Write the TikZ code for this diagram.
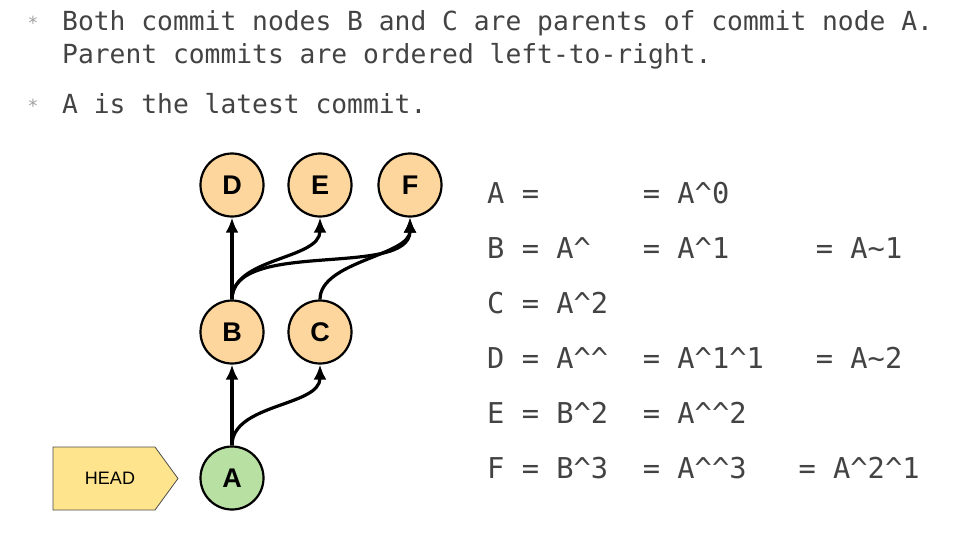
\documentclass[tikz,border=0pt]{standalone}
\usepackage{fontspec}
\setmainfont{Liberation Sans}
\setmonofont{DejaVu Sans Mono}
\usetikzlibrary{arrows.meta}
\definecolor{txtgray}{RGB}{67,67,67}
\definecolor{bulgray}{RGB}{160,160,160}
\definecolor{commitorange}{RGB}{252,214,156}
\definecolor{commitgreen}{RGB}{184,224,162}
\definecolor{headyellow}{RGB}{255,228,142}
\newcommand{\crt}{\textasciicircum}
\newcommand{\tld}{\textasciitilde}
\tikzset{
  commit/.style={circle,draw=black,line width=2.2pt,fill=commitorange,minimum size=63pt,inner sep=0pt,font=\fontsize{27}{27}\selectfont\bfseries},
  parent/.style={-{Latex[length=15pt,width=13pt]},line width=3.2pt},
  bullet/.style={anchor=base west,inner sep=0pt,text=txtgray,font=\ttfamily\fontsize{26.3}{33}\selectfont},
  star/.style={text=bulgray,inner sep=0pt,font=\ttfamily\fontsize{18}{18}\selectfont},
  eqn/.style={anchor=base west,inner sep=0pt,text=txtgray,font=\ttfamily\fontsize{28.7}{30}\selectfont}
}

\begin{document}
\begin{tikzpicture}[x=1pt,y=-1pt]
      \useasboundingbox (0,0) rectangle (960,544);
      \fill[white] (0,0) rectangle (960,544);
      % bullet text
      \node[star] (s1) at (33,23) {*};
      \node[bullet] (t1) at (62,30) {Both commit nodes B and C are parents of commit node A.};
      \node[bullet] (t2) at (62,63) {Parent commits are ordered left-to-right.};
      \node[star] (s2) at (33,106) {*};
      \node[bullet] (t3) at (62,113) {A is the latest commit.};
      % commit graph
      \node[commit] (D) at (232,185) {D};
      \node[commit] (E) at (320,185) {E};
      \node[commit] (F) at (410,185) {F};
      \node[commit] (B) at (232,332) {B};
      \node[commit] (C) at (320,332) {C};
      \node[commit,fill=commitgreen] (A) at (232,478) {A};
      \draw[fill=headyellow,draw=black!70,line width=0.8pt] (53,447) -- (155,447) -- (178,478.5) -- (155,510) -- (53,510) -- cycle;
      \node[font=\fontsize{18}{18}\selectfont] (head) at (110,478.5) {HEAD};
      \draw[parent] (A) -- (B);
      \draw[parent] (A.north) to[out=90,in=-90,looseness=0.9] (C.south);
      \draw[parent] (B) -- (D);
      \draw[parent] (B.north) to[out=90,in=-90,looseness=0.9] (E.south);
      \draw[parent] (B.north) to[out=90,in=-90,looseness=0.8] (F.south);
      \draw[parent] (C.north) to[out=90,in=-90,looseness=0.8] (F.south);
      % ancestry references
      \node[eqn] (eA1) at (487,203.5) {A =};
      \node[eqn] (eA2) at (642.7,203.5) {= A\crt0};
      \node[eqn] (eB1) at (487,258.5) {B = A\crt};
      \node[eqn] (eB2) at (642.7,258.5) {= A\crt1};
      \node[eqn] (eB3) at (815.7,258.5) {= A\tld1};
      \node[eqn] (eC1) at (487,313.5) {C = A\crt2};
      \node[eqn] (eD1) at (487,368.5) {D = A\crt\crt};
      \node[eqn] (eD2) at (642.7,368.5) {= A\crt1\crt1};
      \node[eqn] (eD3) at (815.7,368.5) {= A\tld2};
      \node[eqn] (eE1) at (487,423.5) {E = B\crt2};
      \node[eqn] (eE2) at (642.7,423.5) {= A\crt\crt2};
      \node[eqn] (eF1) at (487,478.5) {F = B\crt3};
      \node[eqn] (eF2) at (642.7,478.5) {= A\crt\crt3};
      \node[eqn] (eF3) at (798.4,478.5) {= A\crt2\crt1};
\end{tikzpicture}
\end{document}
